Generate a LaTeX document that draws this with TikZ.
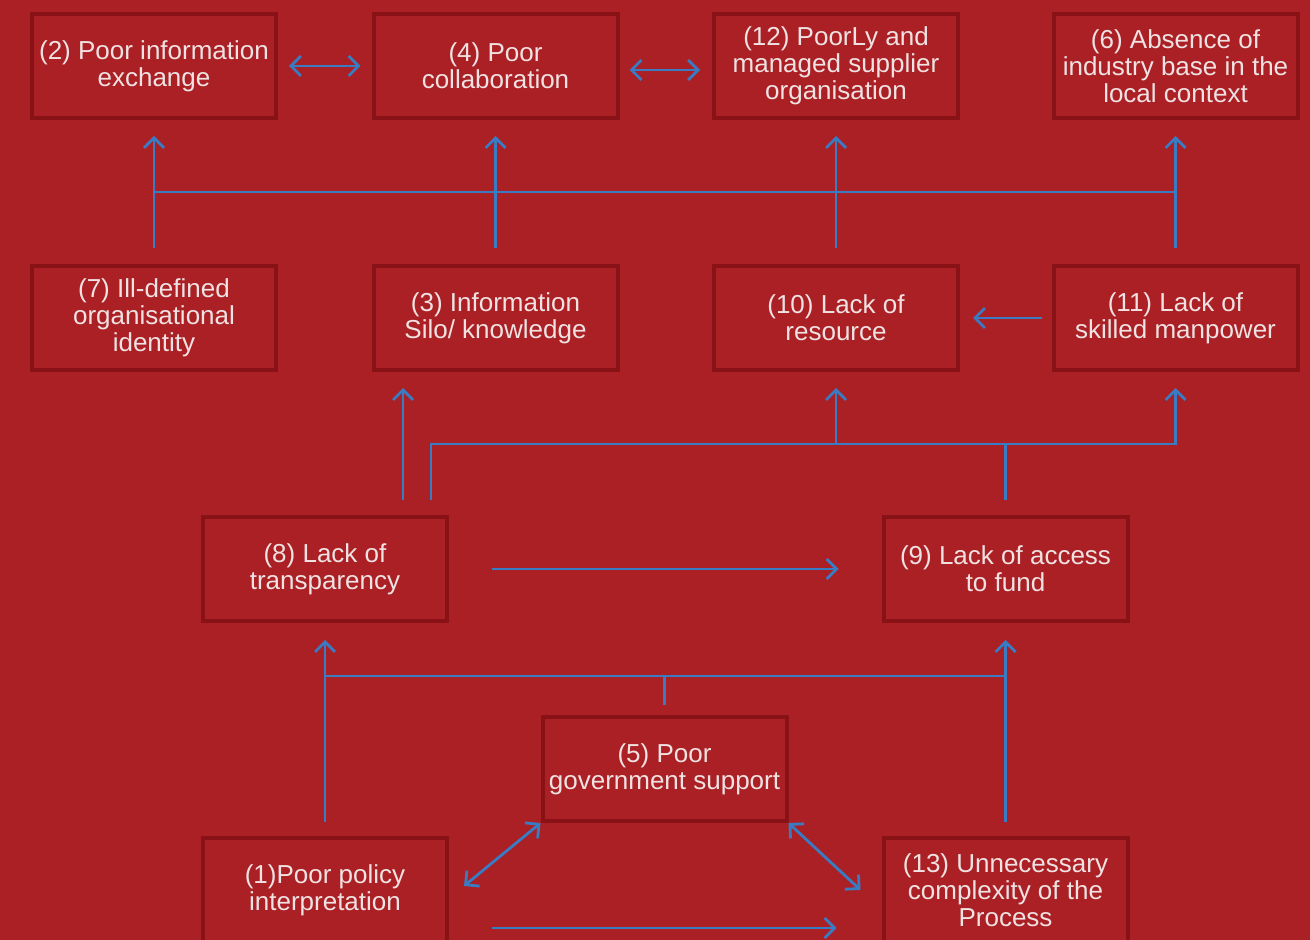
\documentclass[tikz,border=0pt]{standalone}
\usepackage{fontspec}
\setmainfont{Liberation Sans}
\usetikzlibrary{arrows.meta}
\definecolor{bgred}{RGB}{170,32,37}
\definecolor{boxred}{RGB}{136,18,22}
\definecolor{linkblue}{RGB}{58,124,196}
\definecolor{textpink}{RGB}{240,226,226}
\begin{document}
\begin{tikzpicture}[x=5pt,y=5pt]
        \tikzset{issue/.style={draw=boxred, line width=2pt, text=textpink, align=center,
            minimum width=122pt, minimum height=52pt, inner sep=0pt,
            font=\fontsize{13}{13.5}\selectfont}}
        \tikzset{link/.style={draw=linkblue, line width=1.4pt,
            -{Straight Barb[length=5pt,width=10pt,line width=1.4pt]}}}
        \tikzset{both link/.style={link, {Straight Barb[length=5pt,width=10pt,line width=1.4pt]}-{Straight Barb[length=5pt,width=10pt,line width=1.4pt]}}}
        \tikzset{plain link/.style={draw=linkblue, line width=1.4pt}}
        \fill[bgred] (0,0) rectangle (131,-94);
        \useasboundingbox (0,0) rectangle (131,-94);
        \node[issue] (2) at (15.4,-6.6) {(2) Poor information\\exchange};
        \node[issue] (4) at (49.55,-6.6) {(4) Poor\\collaboration};
        \node[issue] (12) at (83.6,-6.6) {(12) PoorLy and\\managed supplier\\organisation};
        \node[issue] (6) at (117.55,-6.6) {(6) Absence of\\industry base in the\\local context};
        \node[issue] (7) at (15.4,-31.8) {(7) Ill-defined\\organisational\\identity};
        \node[issue] (3) at (49.55,-31.8) {(3) Information\\Silo/ knowledge};
        \node[issue] (10) at (83.6,-31.8) {(10) Lack of\\resource};
        \node[issue] (11) at (117.55,-31.8) {(11) Lack of\\skilled manpower};
        \node[issue] (8) at (32.5,-56.9) {(8) Lack of\\transparency};
        \node[issue] (9) at (100.55,-56.9) {(9) Lack of access\\to fund};
        \node[issue] (5) at (66.45,-76.9) {(5) Poor\\government support};
        \node[issue] (1) at (32.5,-89) {(1)Poor policy\\interpretation};
        \node[issue] (13) at (100.55,-89) {(13) Unnecessary\\complexity of the\\Process};
        \coordinate (top bus) at (0,-19.2);
        \coordinate (mid bus) at (0,-44.4);
        \coordinate (low bus) at (0,-67.6);
        % top row
        \draw[both link, shorten <=5.5pt, shorten >=5.5pt] (2) -- (4);
        \draw[both link, shorten <=5pt, shorten >=6pt] ([yshift=-2pt]4.east) -- ([yshift=-2pt]12.west);
        \draw[link, shorten <=8pt, shorten >=8pt] (7) -- (2);
        \draw[link, shorten <=8pt, shorten >=8pt] (3) -- (4);
        \draw[link, shorten <=8pt, shorten >=8pt] (10) -- (12);
        \draw[link, shorten <=8pt, shorten >=8pt] (11) -- (6);
        \draw[plain link] (2 |- top bus) -- (6 |- top bus);
        \draw[link, shorten <=5pt, shorten >=6.5pt] (11) -- (10);
        % middle
        \draw[link, shorten <=7.5pt, shorten >=8pt] ([xshift=39pt]8.north) -- ([xshift=39pt]8.north |- 3.south);
        \draw[link, shorten <=7.5pt, shorten >=8pt] ([xshift=53pt]8.north) |- (mid bus -| 11) -- (11.south);
        \draw[link, shorten >=8pt] (mid bus -| 10) -- (10.south);
        \draw[plain link, shorten <=7.5pt] (9.north) -- (mid bus -| 9);
        \draw[link, shorten <=21.5pt, shorten >=21.5pt] (8) -- (9);
        % bottom
        \draw[plain link] (8 |- low bus) -- (9 |- low bus);
        \draw[plain link, shorten <=5pt] (5.north) -- (low bus -| 5);
        \draw[link, shorten <=7pt, shorten >=8.5pt] (1.north) -- (8.south);
        \draw[link, shorten <=7pt, shorten >=8.5pt] (13.north) -- (9.south);
        \draw[both link] ([xshift=7.5pt,yshift=2pt]1.east) -- (5.south west);
        \draw[both link] (5.south east) -- ([xshift=-10.5pt]13.west);
        \draw[link, shorten <=21.5pt, shorten >=22.5pt] ([yshift=-19pt]1.east) -- ([yshift=-19pt]13.west);
    \end{tikzpicture}
\end{document}
